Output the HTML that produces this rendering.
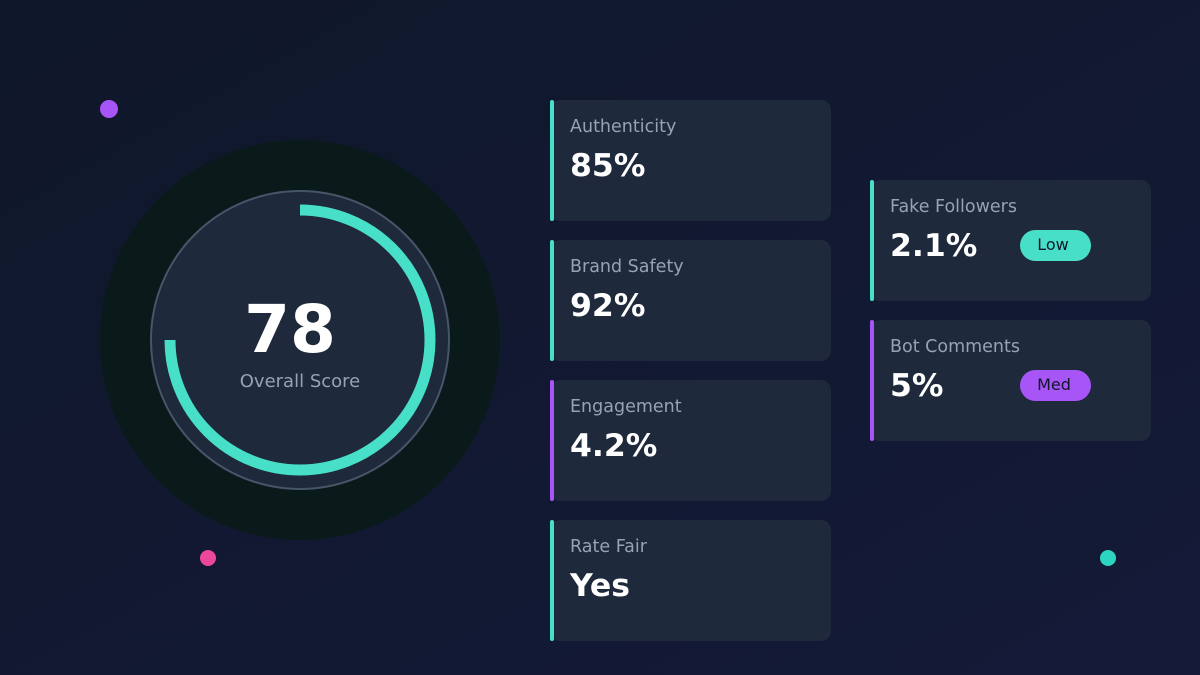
<!DOCTYPE html>
<html><head><meta charset="utf-8"><style>
html,body{margin:0;padding:0;width:1200px;height:675px;overflow:hidden}
svg{display:block;font-family:"DejaVu Sans","Liberation Sans",sans-serif}
</style></head><body>
<svg width="1200" height="675" viewBox="0 0 1200 675">
<defs><linearGradient id="bg" x1="0" y1="0" x2="1" y2="1">
<stop offset="0" stop-color="#0f172a"/><stop offset="1" stop-color="#141a38"/></linearGradient></defs>
<rect width="1200" height="675" fill="url(#bg)"/>
<circle cx="109" cy="109" r="9" fill="#a855f7"/>
<circle cx="208" cy="558" r="8" fill="#ec4899"/>
<circle cx="1108" cy="558" r="8" fill="#2dd4bf"/>
<circle cx="300" cy="340" r="200" fill="#0a1a1a"/>
<circle cx="300" cy="340" r="149" fill="#1e293b" stroke="#475569" stroke-width="2"/>
<path d="M300 210 A130 130 0 1 1 170 340" fill="none" stroke="#48dfc8" stroke-width="11"/>
<text x="290" y="352" text-anchor="middle" font-size="66" font-weight="bold" fill="#fff">78</text>
<text x="300" y="387" text-anchor="middle" font-size="18" fill="#94a3b8">Overall Score</text>

<g>
<rect x="550" y="100" width="281" height="121" rx="10" fill="#1e293b"/><rect x="550" y="100" width="4" height="121" rx="2" fill="#48dfc8"/>
<text x="570" y="132" font-size="17.5" fill="#94a3b8">Authenticity</text><text x="570" y="176" font-size="31.5" font-weight="bold" fill="#fff">85%</text>
<rect x="550" y="240" width="281" height="121" rx="10" fill="#1e293b"/><rect x="550" y="240" width="4" height="121" rx="2" fill="#48dfc8"/>
<text x="570" y="272" font-size="17.5" fill="#94a3b8">Brand Safety</text><text x="570" y="316" font-size="31.5" font-weight="bold" fill="#fff">92%</text>
<rect x="550" y="380" width="281" height="121" rx="10" fill="#1e293b"/><rect x="550" y="380" width="4" height="121" rx="2" fill="#a855f7"/>
<text x="570" y="412" font-size="17.5" fill="#94a3b8">Engagement</text><text x="570" y="456" font-size="31.5" font-weight="bold" fill="#fff">4.2%</text>
<rect x="550" y="520" width="281" height="121" rx="10" fill="#1e293b"/><rect x="550" y="520" width="4" height="121" rx="2" fill="#48dfc8"/>
<text x="570" y="552" font-size="17.5" fill="#94a3b8">Rate Fair</text><text x="570" y="596" font-size="31.5" font-weight="bold" fill="#fff">Yes</text>

<rect x="870" y="180" width="281" height="121" rx="10" fill="#1e293b"/><rect x="870" y="180" width="4" height="121" rx="2" fill="#48dfc8"/>
<text x="890" y="212" font-size="17.5" fill="#94a3b8">Fake Followers</text><text x="890" y="256" font-size="31.5" font-weight="bold" fill="#fff">2.1%</text>
<rect x="1020" y="230" width="71" height="31" rx="15.5" fill="#48dfc8"/><text x="1053" y="250" text-anchor="middle" font-size="16" fill="#0f172a">Low</text>
<rect x="870" y="320" width="281" height="121" rx="10" fill="#1e293b"/><rect x="870" y="320" width="4" height="121" rx="2" fill="#a855f7"/>
<text x="890" y="352" font-size="17.5" fill="#94a3b8">Bot Comments</text><text x="890" y="396" font-size="31.5" font-weight="bold" fill="#fff">5%</text>
<rect x="1020" y="370" width="71" height="31" rx="15.5" fill="#a855f7"/><text x="1054" y="390" text-anchor="middle" font-size="16" fill="#0f172a">Med</text>
</g>
</svg>
</body></html>
